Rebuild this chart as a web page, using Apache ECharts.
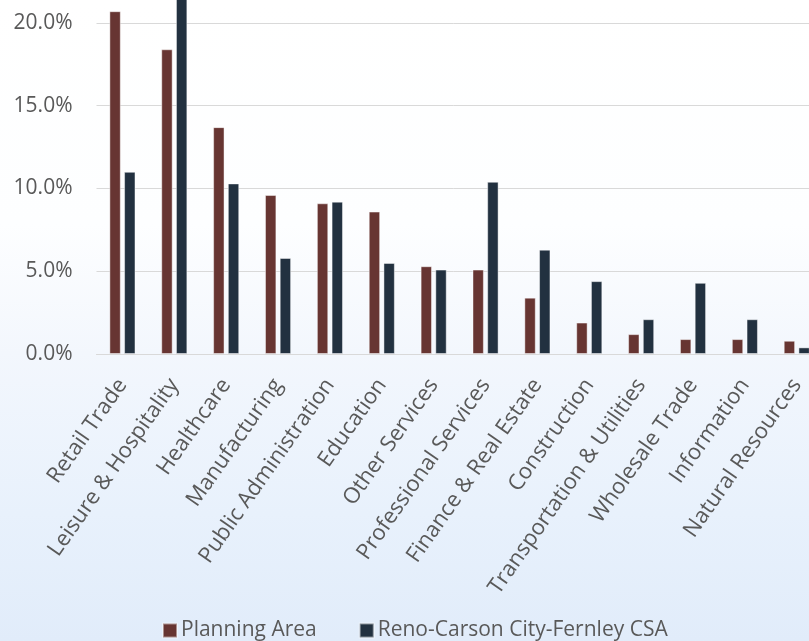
<!DOCTYPE html>
<html>
<head>
<meta charset="utf-8">
<script src="https://cdn.jsdelivr.net/npm/echarts@6/dist/echarts.min.js"></script>
<style>
  html, body { margin: 0; padding: 0; }
  #chart { width: 809px; height: 641px; }
</style>
</head>
<body>
<div id="chart"></div>
<script>
// Employment share by industry sector (percent of total jobs)
const categories = [
  'Retail Trade', 'Leisure & Hospitality', 'Healthcare', 'Manufacturing',
  'Public Administration', 'Education', 'Other Services', 'Professional Services',
  'Finance & Real Estate', 'Construction', 'Transportation & Utilities',
  'Wholesale Trade', 'Information', 'Natural Resources'
];
const planningArea = [20.7, 18.4, 13.7, 9.6, 9.1, 8.6, 5.3, 5.1, 3.4, 1.9, 1.2, 0.9, 0.9, 0.8];
const renoCsa      = [11.0, 22.8, 10.3, 5.8, 9.2, 5.5, 5.1, 10.4, 6.3, 4.4, 2.1, 4.3, 2.1, 0.4];
const seriesNames = ['Planning Area', 'Reno-Carson City-Fernley CSA'];
const yTicks = { min: 0, max: 25, interval: 5 };

const textColor = '#595959';
const fontFamily = '"Open Sans", sans-serif';

const chart = echarts.init(document.getElementById('chart'), null, { renderer: 'canvas' });

chart.setOption({
  animation: false,
  backgroundColor: {
    type: 'linear', x: 0, y: 0, x2: 0, y2: 1,
    colorStops: [
      { offset: 0.0, color: '#ffffff' },
      { offset: 0.35, color: '#fdfeff' },
      { offset: 0.55, color: '#f3f7fd' },
      { offset: 0.8, color: '#e8f1fc' },
      { offset: 1.0, color: '#e1ecfa' }
    ]
  },
  // the plot area runs past the top and right edges of the canvas
  grid: {
    left: 96.5, right: -13.7, top: -60, bottom: 287,
    containLabel: false, outerBoundsMode: 'none'
  },
  legend: {
    left: 157, top: 615,
    itemWidth: 14, itemHeight: 14, itemGap: 42,
    icon: 'rect',
    textStyle: { color: textColor, fontSize: 21, fontFamily: fontFamily, padding: [0, 0, 0, -1] },
    data: seriesNames
  },
  xAxis: {
    type: 'category',
    data: categories,
    axisLine: { lineStyle: { color: '#d9d9d9', width: 1 } },
    axisTick: { show: false },
    axisLabel: {
      rotate: 55, interval: 0, margin: 27,
      color: textColor, fontSize: 22, fontFamily: fontFamily
    }
  },
  yAxis: {
    type: 'value',
    min: yTicks.min, max: yTicks.max, interval: yTicks.interval,
    axisLine: { show: false },
    axisTick: { show: false },
    splitLine: { lineStyle: { color: '#d9d9d9', width: 1 } },
    axisLabel: {
      margin: 24, color: textColor, fontSize: 21, fontFamily: fontFamily,
      formatter: v => v.toFixed(1) + '%'
    }
  },
  series: [
    {
      name: seriesNames[0], type: 'bar', data: planningArea,
      barWidth: 11.4, barGap: '29%',
      itemStyle: { color: '#673532', borderColor: 'rgba(255,255,255,0.45)', borderWidth: 1 }
    },
    {
      name: seriesNames[1], type: 'bar', data: renoCsa,
      barWidth: 11.4, barGap: '29%',
      itemStyle: { color: '#223140', borderColor: 'rgba(255,255,255,0.45)', borderWidth: 1 }
    }
  ]
});
</script>
</body>
</html>
